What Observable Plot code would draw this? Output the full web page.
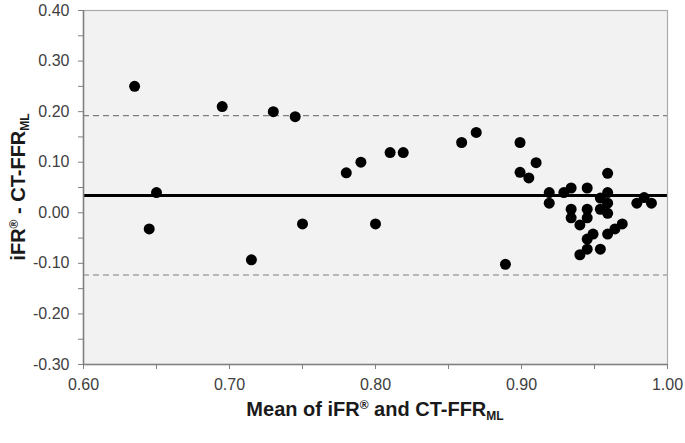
<!DOCTYPE html>
<html><head><meta charset="utf-8">
<script src="https://cdn.jsdelivr.net/npm/d3@7"></script>
<script src="https://cdn.jsdelivr.net/npm/@observablehq/plot@0.6"></script>
<style>
body{margin:0;background:#fff;}
#chart{width:685px;height:443px;}
</style>
</head><body><div id="chart"></div>
<script>
// Mean of iFR and CT-FFR_ML (x) and their difference (y)
const meanValues = [0.635,0.645,0.650,0.695,0.715,0.730,0.745,0.750,0.780,0.790,0.800,0.810,0.819,0.859,0.869,0.889,0.899,0.899,0.905,0.910,0.919,0.919,0.929,0.934,0.945,0.934,0.945,0.934,0.945,0.940,0.954,0.954,0.959,0.959,0.959,0.959,0.949,0.945,0.959,0.964,0.969,0.945,0.940,0.954,0.979,0.984,0.989];
const diffValues = [0.250,-0.032,0.040,0.210,-0.093,0.200,0.190,-0.022,0.079,0.100,-0.022,0.119,0.119,0.139,0.159,-0.102,0.139,0.080,0.069,0.099,0.040,0.019,0.040,0.049,0.049,0.007,0.007,-0.010,-0.010,-0.024,0.029,0.007,0.078,0.040,0.019,-0.001,-0.042,-0.052,-0.042,-0.032,-0.022,-0.072,-0.083,-0.072,0.019,0.030,0.019];
const meanDiff = 0.034;
const limitsOfAgreement = [0.192, -0.123];
const xTicks = [0.6,0.7,0.8,0.9,1.0];
const xMinorTicks = [0.65,0.75,0.85,0.95];
const yTicks = [-0.3,-0.2,-0.1,0,0.1,0.2,0.3,0.4];
const yMinorTicks = [-0.25,-0.15,-0.05,0.05,0.15,0.25,0.35];

const points = meanValues.map((x,i)=>({x, y: diffValues[i]}));
const axisColor = "#808080";

const plot = Plot.plot({
  width:685, height:443,
  marginLeft:83, marginRight:18, marginTop:10, marginBottom:79,
  style:{fontFamily:"'Liberation Sans', Arial, sans-serif", fontSize:"16px", color:"#404040", background:"#fff"},
  x:{domain:[0.6,1.0]},
  y:{domain:[-0.3,0.4]},
  marks:[
    Plot.frame({fill:"#f2f2f2"}),
    Plot.ruleY(limitsOfAgreement, {stroke:"#7f7f7f", strokeDasharray:"6,4", strokeWidth:1.2}),
    Plot.ruleY([meanDiff], {stroke:"#000", strokeWidth:3}),
    Plot.dot(points, {x:"x", y:"y", r:5.5, fill:"#000"}),
    Plot.frame({stroke:"#ababab", strokeWidth:1.2}),
    Plot.ruleX([0.6], {stroke:axisColor, strokeWidth:1.5}),
    Plot.ruleY([-0.3], {stroke:axisColor, strokeWidth:1.5}),
    Plot.axisX(xTicks, {tickFormat:d=>d.toFixed(2), tickSize:5, tickPadding:9, label:null, stroke:axisColor, fill:"#404040"}),
    Plot.axisX(xMinorTicks, {tickFormat:()=>"", tickSize:5, label:null, stroke:axisColor}),
    Plot.axisY(yTicks, {tickFormat:d=>d.toFixed(2), tickSize:5, tickPadding:9, label:null, stroke:axisColor, fill:"#404040"}),
    Plot.axisY(yMinorTicks, {tickFormat:()=>"", tickSize:5, label:null, stroke:axisColor})
  ]
});
document.getElementById("chart").appendChild(plot);

const svg = d3.select(plot);
const titleFont = "'Liberation Sans', Arial, sans-serif";
// x title
const xt = svg.append("text")
  .attr("x", 375).attr("y", 416)
  .attr("text-anchor","middle")
  .attr("font-family", titleFont).attr("font-weight","bold").attr("font-size","20px").attr("fill","#1a1a1a");
xt.append("tspan").text("Mean of iFR");
xt.append("tspan").attr("font-size","12px").attr("dy","-7").text("®");
xt.append("tspan").attr("dy","7").text(" and CT-FFR");
xt.append("tspan").attr("font-size","12px").attr("dy","4").text("ML");
// y title
const yt = svg.append("text")
  .attr("transform","translate(25,187) rotate(-90)")
  .attr("text-anchor","middle")
  .attr("font-family", titleFont).attr("font-weight","bold").attr("font-size","20px").attr("fill","#1a1a1a");
yt.append("tspan").text("iFR");
yt.append("tspan").attr("font-size","12px").attr("dy","-7").text("®");
yt.append("tspan").attr("dy","7").text(" - CT-FFR");
yt.append("tspan").attr("font-size","12px").attr("dy","4").text("ML");
</script>
</body></html>
